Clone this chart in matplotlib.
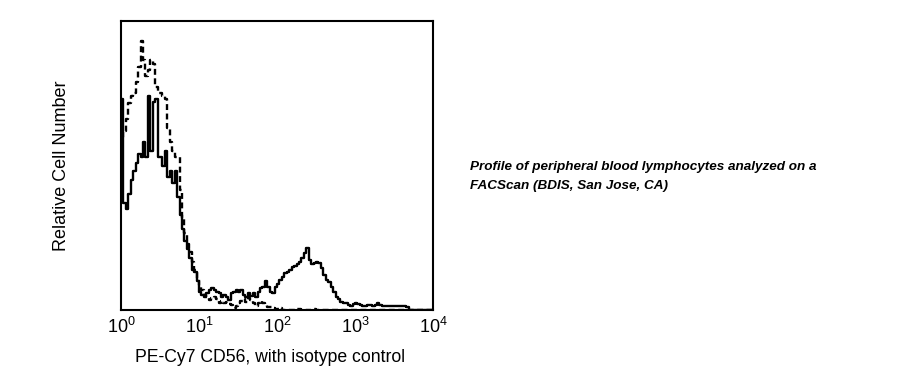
import numpy as np
import matplotlib
matplotlib.use("Agg")
import matplotlib.pyplot as plt

plt.rcParams['font.family'] = ['Liberation Sans', 'DejaVu Sans']
plt.rcParams['mathtext.fontset'] = 'custom'
plt.rcParams['mathtext.rm'] = 'Liberation Sans'

# 128 channels over 4 decades, relative counts (% of full scale)
n_channels = 128
channels_per_decade = 32

cd56_counts = [
    73, 37, 35, 40, 45, 48, 51, 54, 53, 58, 53, 74, 55, 72, 73, 53,
    53, 50, 55, 46, 48, 44, 48, 39, 33, 28, 24, 21, 18, 14, 13, 10,
    6.3, 5.2, 4.6, 5.8, 6.9, 7.5, 6.9, 6.3, 5.8, 4.6, 5.2, 4.4, 3.5, 5.8, 6.3, 6.9,
    6.3, 6.9, 5.2, 4.6, 5.8, 4.8, 6.0, 4.6, 6.3, 7.5, 8.1, 10, 8.0, 6.3, 5.8, 8.1,
    9.0, 10.4, 11.5, 12.7, 13.3, 14, 15, 15.2, 16, 16.7, 17.9, 19.6, 21.3, 17.3, 16, 16.4,
    16.7, 16.4, 14.4, 12.1, 10.4, 9.8, 8.1, 6.3, 4.6, 3.7, 2.9, 2.5, 2.3, 1.7, 1.5, 2.1,
    2.3, 2.0, 1.6, 1.4, 1.3, 1.6, 1.8, 1.5, 1.8, 2.3, 1.6, 1.3, 1.5, 1.4, 1.3, 1.4,
    1.4, 1.3, 1.4, 1.4, 1.3, 1.2, 0, 0, 0, 0, 0, 0, 0, 0, 0, 0,
]

isotype_counts = [
    60, 62, 66, 71.5, 74, 75, 79, 84, 93, 86.5, 81, 83, 86.5, 85, 77, 75,
    75, 74, 73, 63, 58, 55, 53, 53, 41.5, 32, 26.5, 23, 20, 16.7, 13.8, 11,
    8.7, 6.9, 5.2, 4.4, 3.5, 4.2, 4.6, 3.7, 2.5, 3.2, 2.3, 2.9, 2.1, 1.7, 0.6, 1.4,
    2.3, 3.2, 3.7, 2.9, 4.0, 3.5, 2.3, 1.4, 2.3, 3.2, 2.3, 1.7, 1.2, 0.9, 0.6, 0.2,
    0.5, 0.8, 0, 0, 0, 0, 0, 0, 0.3, 0.3, 0, 0, 0, 0, 0.3, 0.3,
    0, 0, 0, 0, 0, 0, 0, 0, 0, 0, 0, 0, 0, 0, 0, 0,
    0, 0, 0, 0, 0, 0, 0, 0, 0, 0, 0, 0, 0, 0, 0, 0,
    0, 0, 0, 0, 0, 0, 0, 0, 0, 0, 0, 0, 0, 0, 0, 0,
]

channel = np.arange(n_channels)
intensity = 10 ** ((channel + 0.5) / channels_per_decade)

fig = plt.figure(figsize=(9.03, 3.75), dpi=100)
ax = fig.add_axes([121 / 903, 1 - 310 / 375, 312 / 903, 289 / 375])

ax.plot(intensity, isotype_counts, color='black', lw=1.7,
        linestyle=(0, (2.5, 1.5)), drawstyle='steps-mid')
ax.plot(intensity, cd56_counts, color='black', lw=1.7, drawstyle='steps-mid')

ax.set_xscale('log')
ax.set_xlim(1, 1e4)
ax.set_ylim(0, 100)
ax.set_yticks([])
ax.set_xticks([1, 10, 100, 1000, 10000])
ax.minorticks_off()
ax.tick_params(axis='x', length=0, pad=5, labelsize=13)
for s in ax.spines.values():
    s.set_linewidth(1.5)

ax.set_xlabel('PE-Cy7 CD56, with isotype control', fontsize=12.7)
ax.xaxis.set_label_coords(0.478, -0.135)
ax.set_ylabel('Relative Cell Number', fontsize=13)
ax.yaxis.set_label_coords(-0.165, 0.5)

fig.text(470 / 903, 1 - 176.5 / 375,
         'Profile of peripheral blood lymphocytes analyzed on a\nFACScan (BDIS, San Jose, CA)',
         fontsize=9.7, fontweight='bold', fontstyle='italic', va='center', ha='left',
         linespacing=1.75)

fig.savefig('out.png', dpi=100)
